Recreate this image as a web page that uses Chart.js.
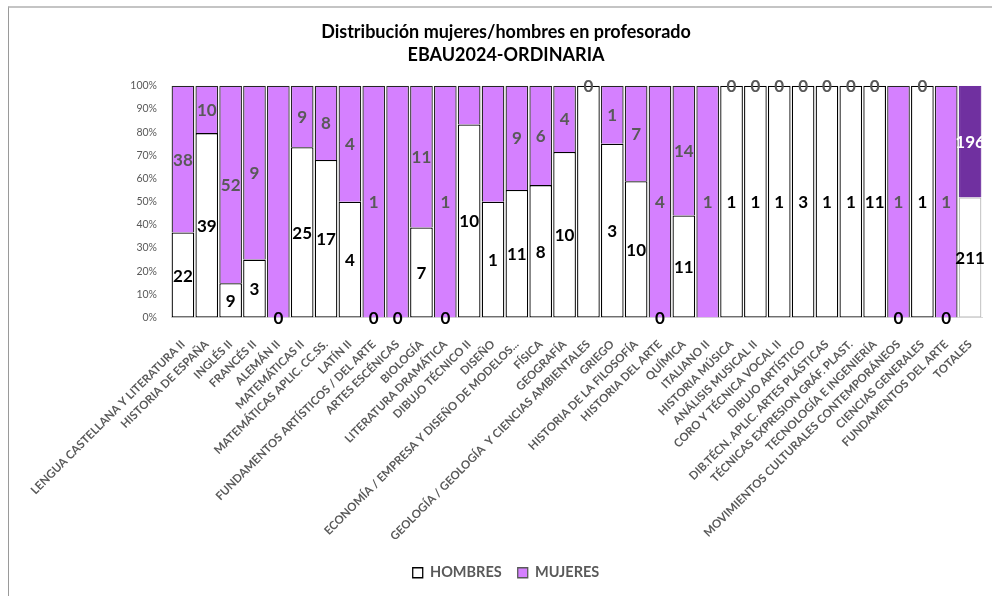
<!DOCTYPE html>
<html lang="es">
<head>
    <meta charset="UTF-8">
    <title>Distribución mujeres/hombres en profesorado</title>
    <script src="https://cdn.jsdelivr.net/npm/chart.js"></script>
    <style>
        body {
            margin: 0;
            background: #fff;
            overflow: hidden;
        }
        .marco {
            position: absolute;
            left: 8px;
            top: 6px;
            width: 1000px;
            height: 600px;
            border-left: 1px solid #9a9a9a;
            border-top: 2px solid #c4c4c4;
        }
        .chart-wrapper {
            position: absolute;
            left: 0;
            top: 0;
            width: 992px;
            height: 596px;
        }
    </style>
</head>
<body>
    <div class="marco"></div>
    <div class="chart-wrapper">
        <canvas id="profesoradoChart"></canvas>
    </div>

    <script>
        const categorias = [
            'LENGUA CASTELLANA Y LITERATURA II', 'HISTORIA DE ESPAÑA', 'INGLÉS II', 'FRANCÉS II',
            'ALEMÁN II', 'MATEMÁTICAS II', 'MATEMÁTICAS APLIC. CC.SS.', 'LATÍN II',
            'FUNDAMENTOS ARTÍSTICOS / DEL ARTE', 'ARTES ESCÉNICAS', 'BIOLOGÍA', 'LITERATURA DRAMÁTICA',
            'DIBUJO TÉCNICO II', 'DISEÑO', 'ECONOMÍA / EMPRESA Y DISEÑO DE MODELOS...', 'FÍSICA',
            'GEOGRAFÍA', 'GEOLOGÍA / GEOLOGÍA  Y CIENCIAS AMBIENTALES', 'GRIEGO', 'HISTORIA DE LA FILOSOFÍA',
            'HISTORIA DEL ARTE', 'QUÍMICA', 'ITALIANO II', 'HISTORIA MÚSICA',
            'ANÁLISIS MUSICAL II', 'CORO Y TÉCNICA VOCAL II', 'DIBUJO ARTÍSTICO', 'DIB.TÉCN. APLIC. ARTES PLÁSTICAS',
            'TÉCNICAS EXPRESION GRÁF. PLAST.', 'TECNOLOGÍA E INGENIERÍA', 'MOVIMIENTOS CULTURALES CONTEMPORÁNEOS', 'CIENCIAS GENERALES',
            'FUNDAMENTOS DEL ARTE', 'TOTALES'
        ];
        const hombres = [22, 39, 9, 3, 0, 25, 17, 4, 0, 0, 7, 0, 10, 1, 11, 8, 10, 1, 3, 10, 0, 11, 0, 1, 1, 1, 3, 1, 1, 11, 0, 1, 0, 211];
        const mujeres = [38, 10, 52, 9, 1, 9, 8, 4, 1, 1, 11, 1, 2, 1, 9, 6, 4, 0, 1, 7, 4, 14, 1, 0, 0, 0, 0, 0, 0, 0, 1, 0, 1, 196];
        // etiquetas que no aparecen en el original
        const ocultasHombres = [17, 22];
        const ocultasMujeres = [4, 9, 12, 13];
        const ticksY = [0, 10, 20, 30, 40, 50, 60, 70, 80, 90, 100];

        const ultimo = categorias.length - 1;
        const pct = (v, i) => v / (hombres[i] + mujeres[i]) * 100;
        const FUENTE = 'Lato, "Open Sans", sans-serif';
        const MORADO = '#D580FF';
        const MORADO_OSCURO = '#7030A0';

        // etiquetas de valor dentro de cada barra
        const etiquetasPlugin = {
            id: 'etiquetas',
            afterDatasetsDraw(chart) {
                const ctx = chart.ctx;
                ctx.save();
                ctx.font = 'bold 17px ' + FUENTE;
                ctx.textAlign = 'center';
                ctx.textBaseline = 'middle';
                chart.data.datasets.forEach((ds, di) => {
                    const meta = chart.getDatasetMeta(di);
                    meta.data.forEach((bar, i) => {
                        if (ds.ocultas.includes(i)) return;
                        const valor = ds.valores[i];
                        const y = valor === 0 ? bar.y : (bar.y + bar.base) / 2;
                        ctx.fillStyle = ds.colorEtiqueta[i];
                        ctx.fillText(String(valor), bar.x, y + 1);
                    });
                });
                ctx.restore();
            }
        };

        const ctx = document.getElementById('profesoradoChart').getContext('2d');
        new Chart(ctx, {
            type: 'bar',
            data: {
                labels: categorias,
                datasets: [{
                    label: 'HOMBRES',
                    data: hombres.map(pct),
                    valores: hombres,
                    ocultas: ocultasHombres,
                    colorEtiqueta: hombres.map(() => '#000'),
                    backgroundColor: '#ffffff',
                    borderColor: categorias.map((c, i) => i === ultimo ? '#bfbfbf' : '#000'),
                    borderWidth: 1.3,
                    borderSkipped: false
                }, {
                    label: 'MUJERES',
                    data: mujeres.map(pct),
                    valores: mujeres,
                    ocultas: ocultasMujeres,
                    colorEtiqueta: categorias.map((c, i) => i === ultimo ? '#fff' : '#595959'),
                    backgroundColor: categorias.map((c, i) => i === ultimo ? MORADO_OSCURO : MORADO),
                    borderColor: categorias.map((c, i) => i === ultimo ? MORADO_OSCURO : '#262626'),
                    borderWidth: 1.3,
                    borderSkipped: 'start'
                }]
            },
            options: {
                responsive: true,
                maintainAspectRatio: false,
                animation: false,
                datasets: {
                    bar: {
                        categoryPercentage: 1,
                        barPercentage: 0.95
                    }
                },
                layout: {
                    padding: { left: 30, right: 10, top: 0, bottom: 6 }
                },
                plugins: {
                    title: {
                        display: true,
                        text: ['Distribución mujeres/hombres en profesorado', 'EBAU2024-ORDINARIA'],
                        color: '#000',
                        font: { family: FUENTE, size: 18, weight: 'bold', lineHeight: 1.3 },
                        padding: { top: 20, bottom: 19 }
                    },
                    legend: {
                        position: 'bottom',
                        labels: {
                            color: '#595959',
                            font: { family: FUENTE, size: 14.5, weight: 'bold' },
                            boxWidth: 10,
                            boxHeight: 10,
                            padding: 16,
                            generateLabels: () => [
                                { text: 'HOMBRES', fillStyle: '#fff', strokeStyle: '#000', lineWidth: 1.3, fontColor: '#595959', datasetIndex: 0 },
                                { text: 'MUJERES', fillStyle: MORADO, strokeStyle: '#595959', lineWidth: 1.3, fontColor: '#595959', datasetIndex: 1 }
                            ]
                        }
                    },
                    tooltip: { enabled: false }
                },
                scales: {
                    x: {
                        stacked: true,
                        grid: { display: false },
                        border: { color: '#d9d9d9', width: 1 },
                        afterFit: (axis) => {
                            axis.height = 232;
                            // las etiquetas largas bajan hasta la leyenda: sin recorte
                            axis._computeLabelArea = () => undefined;
                        },
                        ticks: {
                            autoSkip: false,
                            minRotation: 45,
                            maxRotation: 45,
                            color: '#595959',
                            padding: 12,
                            font: { family: FUENTE, size: 11.5, weight: 'bold' }
                        }
                    },
                    y: {
                        stacked: true,
                        min: 0,
                        max: 100,
                        grid: { display: false },
                        border: { display: false },
                        afterBuildTicks: (axis) => {
                            axis.ticks = ticksY.map(v => ({ value: v }));
                        },
                        afterFit: (axis) => {
                            axis.width = 141;
                        },
                        ticks: {
                            color: '#595959',
                            padding: 6,
                            font: { family: FUENTE, size: 10.5 },
                            callback: (v) => v + '%'
                        }
                    }
                }
            },
            plugins: [etiquetasPlugin]
        });
    </script>
</body>
</html>
